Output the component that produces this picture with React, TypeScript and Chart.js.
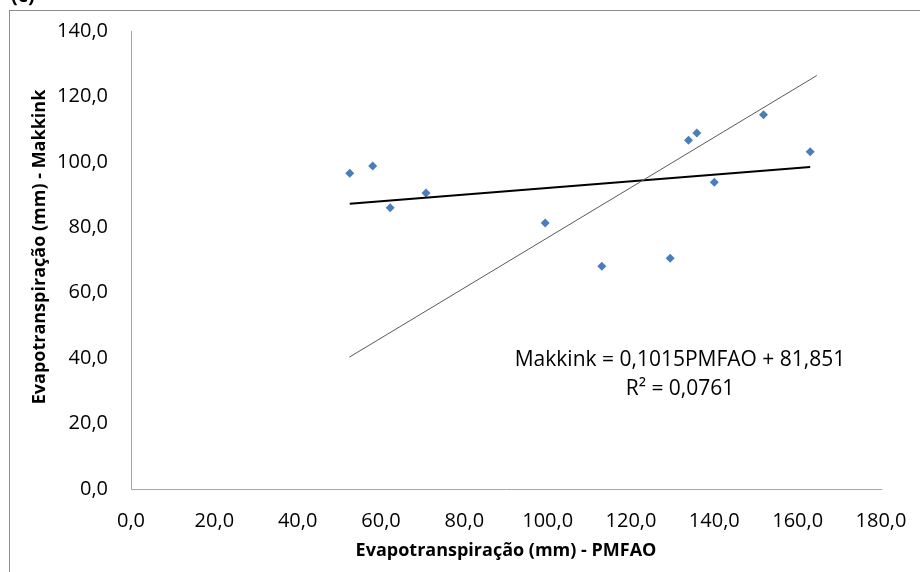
import { useEffect, useRef } from 'react';
import { Chart, registerables } from 'chart.js';

Chart.register(...registerables);

// Text drawn on the figure
const PANEL_LABEL = '(c)';
const X_TITLE = 'Evapotranspiração (mm) - PMFAO';
const Y_TITLE = 'Evapotranspiração (mm) - Makkink';
const EQUATION = 'Makkink = 0,1015PMFAO + 81,851';
const R_SQUARED = 'R² = 0,0761';

// Observed evapotranspiration (mm): PMFAO on x, Makkink on y
const pmfao = [52.5, 58.0, 62.2, 70.8, 99.4, 113.0, 129.4, 133.8, 135.8, 140.0, 151.8, 163.0];
const makkink = [96.5, 98.7, 86.0, 90.5, 81.3, 68.1, 70.5, 106.6, 108.8, 93.8, 114.4, 103.1];

// Linear fit stated in the equation label
const trendSlope = 0.1015;
const trendIntercept = 81.851;

// Thin reference line
const referenceLineX = [52.4, 164.6];
const referenceLineY = [40.3, 126.4];

// Axis tick labels
const xTickLabels = ['0,0', '20,0', '40,0', '60,0', '80,0', '100,0', '120,0', '140,0', '160,0', '180,0'];
const yTickLabels = ['0,0', '20,0', '40,0', '60,0', '80,0', '100,0', '120,0', '140,0'];

const FONT = '"Open Sans", "Noto Sans", sans-serif';

const decorations = {
  id: 'decorations',
  beforeDraw(chart: any) {
    const { ctx, width, height } = chart;
    ctx.save();
    ctx.fillStyle = '#ffffff';
    ctx.fillRect(0, 0, width, height);
    ctx.restore();
  },
  afterDraw(chart: any) {
    const { ctx, chartArea } = chart;
    ctx.save();
    // outer frame
    ctx.strokeStyle = '#8c8c8c';
    ctx.lineWidth = 1;
    ctx.strokeRect(9.5, 10.5, 1000, 1000);

    // panel label (partly above the top edge)
    ctx.fillStyle = '#000000';
    ctx.font = `bold 20px ${FONT}`;
    ctx.textAlign = 'left';
    ctx.textBaseline = 'alphabetic';
    ctx.fillText(PANEL_LABEL, 11, 2);

    // regression equation
    ctx.font = `21px ${FONT}`;
    ctx.textAlign = 'center';
    ctx.textBaseline = 'middle';
    ctx.fillText(EQUATION, 680, 360);
    ctx.fillText(R_SQUARED, 680, 389);

    // axis titles
    ctx.font = `bold 18px ${FONT}`;
    ctx.fillText(X_TITLE, (chartArea.left + chartArea.right) / 2, 551);
    ctx.translate(40, 247);
    ctx.rotate(-Math.PI / 2);
    ctx.fillText(Y_TITLE, 0, 0);
    ctx.restore();
  },
};

export default function App() {
  const canvasRef = useRef<HTMLCanvasElement | null>(null);

  useEffect(() => {
    const canvas = canvasRef.current;
    if (!canvas) return;

    const xMin = Math.min(...pmfao);
    const xMax = Math.max(...pmfao);
    const trend = [xMin, xMax].map((x) => ({ x, y: trendSlope * x + trendIntercept }));
    const reference = referenceLineX.map((x, i) => ({ x, y: referenceLineY[i] }));
    const points = pmfao.map((x, i) => ({ x, y: makkink[i] }));

    const chart = new Chart(canvas, {
      type: 'scatter',
      data: {
        datasets: [
          {
            type: 'line',
            label: 'reference',
            data: reference,
            borderColor: '#5a5a5a',
            borderWidth: 1,
            pointRadius: 0,
            showLine: true,
            fill: false,
          },
          {
            type: 'line',
            label: 'trend',
            data: trend,
            borderColor: '#000000',
            borderWidth: 2,
            pointRadius: 0,
            showLine: true,
            fill: false,
          },
          {
            label: 'Makkink',
            data: points,
            backgroundColor: '#4a7ebb',
            borderColor: '#4a7ebb',
            borderWidth: 0,
            pointStyle: 'rectRot',
            pointRadius: 4.5,
          },
        ],
      },
      options: {
        responsive: false,
        animation: false,
        layout: { padding: { top: 31, right: 39, left: 0, bottom: 0 } },
        plugins: {
          legend: { display: false },
          tooltip: { enabled: false },
        },
        scales: {
          x: {
            type: 'linear',
            min: 0,
            max: 180,
            afterFit: (scale: any) => {
              scale.height = 83;
              scale.paddingLeft = 0;
              scale.paddingRight = 0;
            },
            ticks: {
              stepSize: 20,
              padding: 20,
              color: '#000000',
              font: { family: FONT, size: 20 },
              maxRotation: 0,
              callback: (_v: any, i: number) => xTickLabels[i],
            },
            grid: { drawOnChartArea: false, drawTicks: false, color: '#a6a6a6' },
            border: { display: true, color: '#a6a6a6', width: 1 },
          },
          y: {
            type: 'linear',
            min: 0,
            max: 140,
            afterFit: (scale: any) => {
              scale.width = 131;
              scale.paddingTop = 0;
              scale.paddingBottom = 0;
            },
            ticks: {
              stepSize: 20,
              padding: 23,
              color: '#000000',
              font: { family: FONT, size: 20 },
              callback: (_v: any, i: number) => yTickLabels[i],
            },
            grid: { drawOnChartArea: false, drawTicks: false, color: '#a6a6a6' },
            border: { display: true, color: '#a6a6a6', width: 1 },
          },
        },
      },
      plugins: [decorations],
    });

    return () => chart.destroy();
  }, []);

  return (
    <div style={{ position: 'absolute', left: 0, top: 0, width: 920, height: 572 }}>
      <canvas ref={canvasRef} width={920} height={572} style={{ display: 'block' }} />
    </div>
  );
}
